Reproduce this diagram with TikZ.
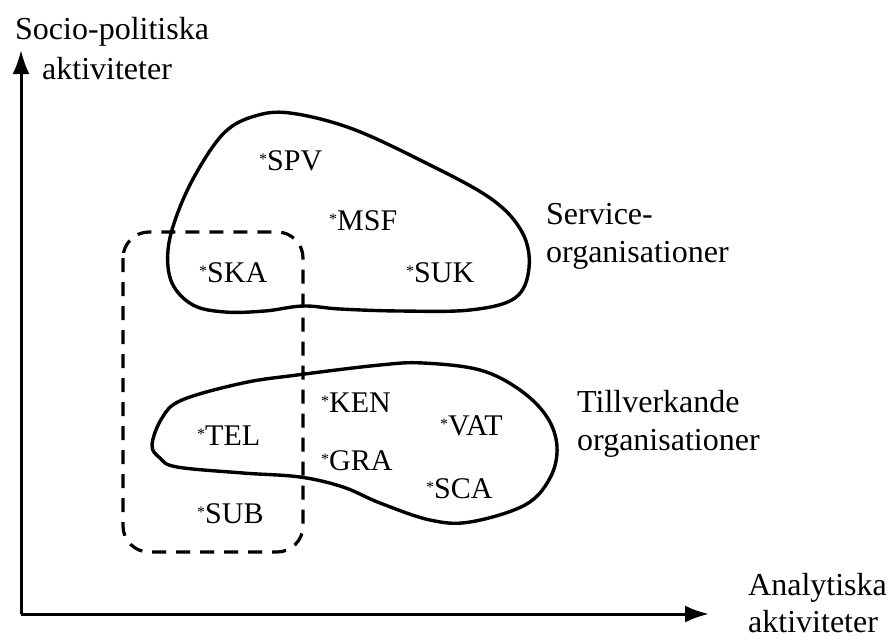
\documentclass[tikz,border=0pt]{standalone}
\usepackage{fontspec}
\setmainfont{Liberation Serif}
\usetikzlibrary{arrows.meta}
\newcommand{\orgstar}{{\fontsize{16}{16}\selectfont\raisebox{6pt}{*}}}
\tikzset{
  axis/.style={line width=3pt,-{Latex[length=24pt,width=17pt]}},
  blob/.style={line width=3.4pt,line join=round},
  dashbox/.style={line width=3.2pt,dash pattern=on 14pt off 10pt,rounded corners=26pt},
  code/.style={anchor=base west,inner sep=0pt,font=\fontsize{30}{36}\selectfont},
  grp/.style={anchor=base west,inner sep=0pt,align=left,font=\fontsize{32}{38}\selectfont},
}
\begin{document}
\begin{tikzpicture}[x=1pt,y=-1pt]
\useasboundingbox[fill=white] (0,0) rectangle (891,643);
% axes
\coordinate (O) at (21,614);
\coordinate (ytip) at (21,50);
\coordinate (xtip) at (709,614);
\draw[axis] (O) -- (ytip);
\draw[axis] (O) -- (xtip);
% axis labels
\node[grp] (ylab1) at (15,39) {Socio-politiska};
\node[grp] (ylab2) at (42,79) {aktiviteter};
\node[grp] (xlab1) at (748,595) {Analytiska};
\node[grp] (xlab2) at (748,632) {aktiviteter};
% service blob
\draw[blob] plot[smooth cycle,tension=0.6] coordinates {
  (290,113) (350,128) (420,160) (490,198) (522,232) (529,268) (515,298)
  (470,310) (400,311) (340,309) (303,306) (265,311) (225,312) (193,305)
  (172,283) (168,250) (178,212) (198,170) (225,132) (255,116)};
% tillverkande blob
\draw[blob] plot[smooth cycle,tension=0.6] coordinates {
  (152,445) (162,418) (182,400) (243,383) (297,375) (380,365) (423,363)
  (480,370) (520,390) (547,417) (557,447) (550,478) (525,505) (470,522)
  (430,520) (380,503) (343,487) (300,477) (243,473) (177,467) (160,458)};
% dashed box
\draw[dashbox] (123,232) rectangle (303,552);
% group labels
\node[grp] (serv) at (546,262) {Service-\\organisationer};
\node[grp] (till) at (577,450) {Tillverkande\\organisationer};
% codes
\node[code] (spv) at (259,170) {\orgstar SPV};
\node[code] (msf) at (329,230) {\orgstar MSF};
\node[code] (ska) at (199,282) {\orgstar SKA};
\node[code] (suk) at (406,282) {\orgstar SUK};
\node[code] (ken) at (321,412) {\orgstar KEN};
\node[code] (tel) at (197,445) {\orgstar TEL};
\node[code] (vat) at (440,435) {\orgstar VAT};
\node[code] (gra) at (321,470) {\orgstar GRA};
\node[code] (sca) at (426,498) {\orgstar SCA};
\node[code] (sub) at (197,523) {\orgstar SUB};
\end{tikzpicture}
\end{document}
